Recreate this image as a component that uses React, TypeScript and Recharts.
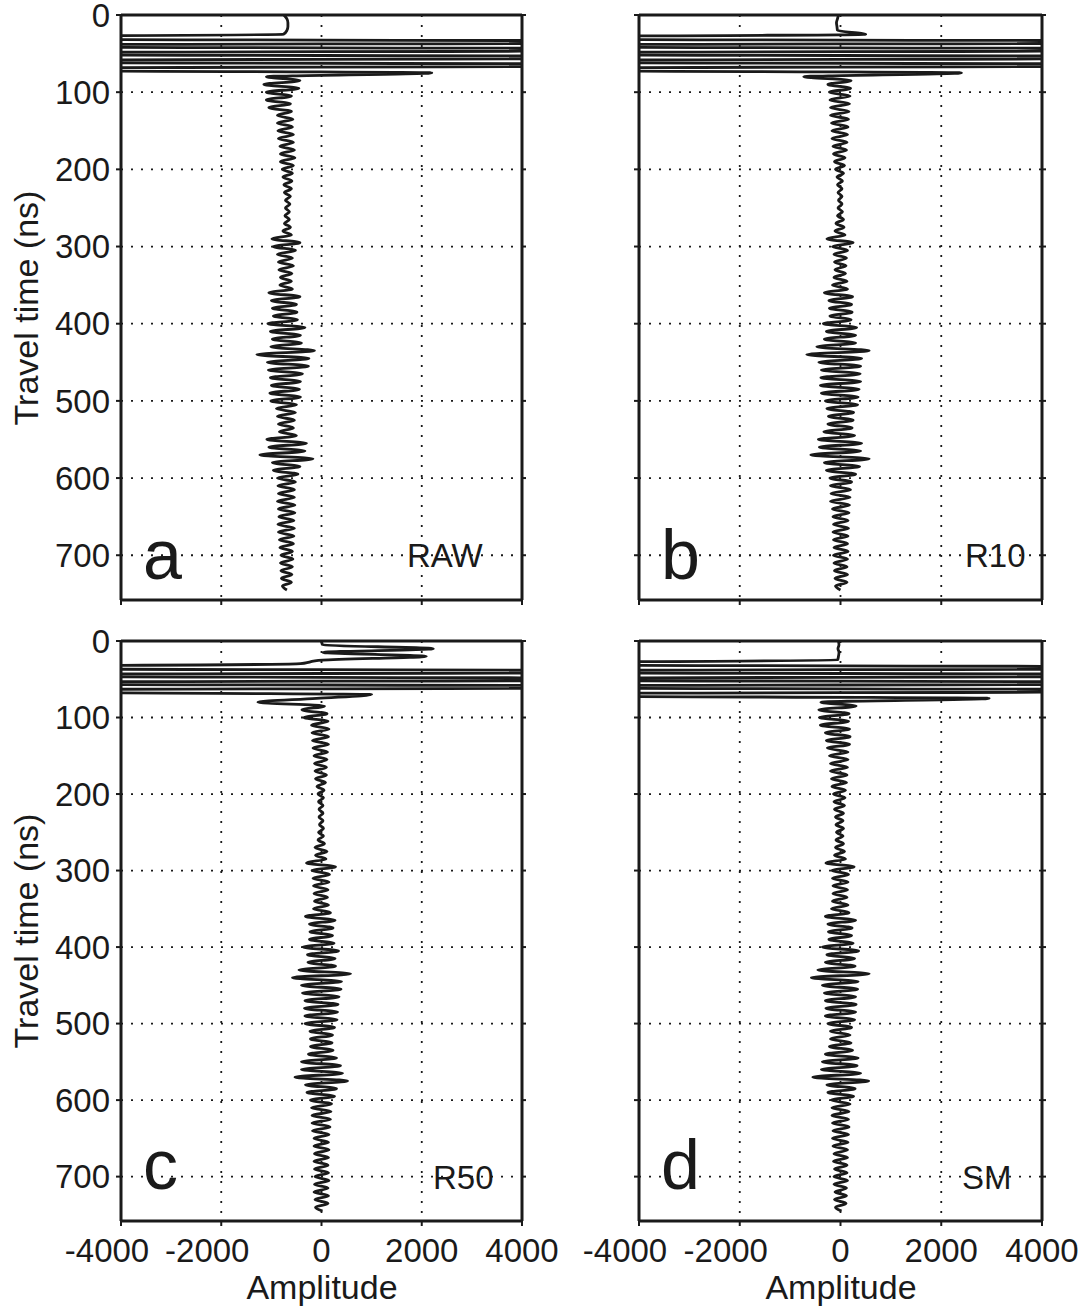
import { CartesianGrid, Line, LineChart, XAxis, YAxis } from "recharts";

// sample interval of the traces (ns); sample i sits at t = i * SAMPLE_NS
const SAMPLE_NS = 5;
const T_MAX = 758;

const timeTicks = [0, 100, 200, 300, 400, 500, 600, 700];
const ampTicks = [-4000, -2000, 0, 2000, 4000];

// amplitude of each trace at every sample (direct wave saturates far past +/-4000)
const rawTrace = [
  -750, -690, -670, -670, -690, -760, -12000, 12000, -12000, 12000,
  -12000, 12000, -12000, 12000, -12000, 2200, -1100, -430, -1150, -450,
  -1100, -600, -1100, -620, -1050, -600, -880, -570, -880, -580,
  -870, -560, -860, -560, -830, -540, -820, -530, -820, -560,
  -780, -580, -770, -590, -750, -600, -740, -620, -720, -630,
  -720, -640, -730, -640, -740, -620, -770, -600, -990, -430,
  -960, -520, -880, -580, -860, -560, -850, -590, -820, -600,
  -830, -580, -1050, -430, -1000, -500, -980, -490, -960, -480,
  -1070, -330, -1020, -420, -980, -400, -1010, -140, -1290, -250,
  -1080, -260, -1060, -380, -1020, -420, -1000, -440, -1030, -420,
  -1010, -500, -900, -520, -880, -540, -860, -560, -840, -500,
  -1090, -300, -1050, -330, -1230, -170, -980, -430, -960, -470,
  -880, -520, -870, -540, -860, -540, -880, -530, -860, -530,
  -850, -550, -870, -540, -860, -550, -840, -560, -830, -580,
  -810, -570, -820, -580, -810, -590, -800, -600, -780, -690,
];

const r10Trace = [
  -40, -60, -80, -70, -60, 500, -12000, 12000, -12000, 12000,
  -12000, 12000, -12000, 12000, -12000, 2400, -730, 210, -250, 200,
  -220, 190, -210, 180, -200, 170, -200, 160, -180, 150,
  -170, 140, -170, 130, -150, 120, -140, 90, -120, 80,
  -100, 60, -70, 40, -60, 30, -50, 30, -40, 30,
  -50, 40, -60, 60, -90, 70, -110, 90, -270, 250,
  -160, 140, -130, 120, -120, 110, -110, 100, -130, 130,
  -160, 140, -320, 240, -230, 220, -220, 230, -210, 210,
  -340, 320, -280, 300, -320, 300, -470, 570, -670, 420,
  -430, 400, -380, 390, -390, 400, -400, 370, -380, 350,
  -300, 340, -270, 260, -240, 250, -250, 230, -330, 280,
  -440, 420, -420, 400, -590, 570, -320, 380, -280, 300,
  -210, 220, -200, 200, -190, 190, -200, 180, -160, 170,
  -150, 150, -140, 160, -150, 150, -140, 140, -130, 150,
  -140, 140, -130, 130, -120, 140, -110, 130, -100, 0,
];

const r50Trace = [
  0, 20, 2230, 30, 2090, 20, -500, -12000, 12000, -12000,
  12000, -12000, 12000, -12000, 1000, -100, -1270, 60, -390, 110,
  -350, 130, -200, 150, -190, 140, -180, 140, -170, 120,
  -150, 110, -140, 100, -130, 100, -120, 80, -90, 50,
  -70, 40, -60, 30, -50, 30, -50, 30, -40, 40,
  -60, 40, -70, 60, -130, 110, -120, 90, -300, 280,
  -190, 160, -170, 150, -160, 130, -150, 120, -140, 140,
  -160, 180, -320, 270, -240, 230, -230, 220, -240, 250,
  -370, 340, -280, 270, -270, 280, -450, 580, -580, 400,
  -400, 390, -380, 350, -330, 330, -340, 320, -330, 310,
  -330, 260, -230, 220, -220, 210, -220, 230, -260, 300,
  -400, 380, -400, 420, -530, 520, -320, 300, -290, 260,
  -220, 200, -200, 190, -190, 180, -190, 170, -180, 150,
  -150, 140, -150, 150, -140, 140, -150, 130, -140, 140,
  -130, 150, -140, 130, -150, 140, -130, 130, -120, 20,
];

const smTrace = [
  -40, -30, -50, -30, -40, -60, -12000, 12000, -12000, 12000,
  -12000, 12000, -12000, 12000, -12000, 2950, -390, 310, -430, 170,
  -420, 160, -400, 180, -300, 190, -280, 180, -260, 150,
  -220, 150, -200, 140, -200, 130, -180, 120, -170, 100,
  -140, 90, -130, 80, -120, 60, -100, 50, -90, 60,
  -80, 50, -90, 60, -100, 80, -120, 100, -290, 270,
  -170, 160, -160, 150, -150, 140, -150, 130, -160, 150,
  -180, 170, -300, 300, -250, 230, -240, 220, -230, 250,
  -360, 360, -270, 280, -300, 290, -450, 570, -580, 350,
  -360, 340, -320, 300, -300, 310, -290, 300, -300, 280,
  -250, 220, -200, 190, -200, 210, -220, 240, -300, 350,
  -360, 330, -380, 400, -550, 560, -270, 290, -250, 260,
  -180, 190, -170, 170, -170, 160, -160, 170, -150, 160,
  -160, 150, -150, 140, -130, 140, -140, 130, -120, 130,
  -130, 140, -130, 120, -110, 120, -120, 110, -100, 20,
];

const panelLetters = ["a", "b", "c", "d"];
const panelTags = ["RAW", "R10", "R50", "SM"];

const FONT = '"Liberation Sans", Arial, Helvetica, sans-serif';
const INK = "#1a1a1a";
const Y_AXIS_W = 100;
const RIGHT_PAD = 44;
const TOP_PAD = 20;

function toRows(values: number[]) {
  return values.map((amp, i) => ({ t: i * SAMPLE_NS, amp }));
}

function AmpTick(props: any) {
  const { x, y, payload } = props;
  const v = payload.value as number;
  return (
    <text
      x={x + (v < 0 ? -14 : 0)}
      y={y}
      dy="0.71em"
      textAnchor="middle"
      fontSize={33}
      fill={INK}
      fontFamily={FONT}
    >
      {v}
    </text>
  );
}

// keeps the tick (and its grid line) but draws no label
function NoLabel() {
  return <g />;
}

type PanelProps = {
  values: number[];
  plotLeft: number;
  plotTop: number;
  plotW: number;
  plotH: number;
  timeLabels: boolean;
  ampLabels: boolean;
};

function TracePanel({ values, plotLeft, plotTop, plotW, plotH, timeLabels, ampLabels }: PanelProps) {
  const bottomH = ampLabels ? 70 : 10;
  const width = Y_AXIS_W + plotW + 6 + RIGHT_PAD;
  const height = TOP_PAD + 6 + plotH + bottomH;
  const axisLine = { stroke: INK, strokeWidth: 3 };
  const tickLine = { stroke: INK, strokeWidth: 2 };
  return (
    <div style={{ position: "absolute", left: plotLeft - Y_AXIS_W, top: plotTop - 6 - TOP_PAD }}>
      <LineChart
        width={width}
        height={height}
        layout="vertical"
        data={toRows(values)}
        margin={{ top: TOP_PAD, right: RIGHT_PAD, bottom: 0, left: 0 }}
      >
        <CartesianGrid stroke={INK} strokeWidth={1.8} strokeDasharray="2 8" />
        <XAxis
          type="number"
          domain={[-4000, 4000]}
          ticks={ampTicks}
          interval={0}
          allowDataOverflow
          height={bottomH}
          axisLine={axisLine}
          tickLine={tickLine}
          tickSize={5}
          tickMargin={13}
          tick={ampLabels ? <AmpTick /> : <NoLabel />}
        />
        <XAxis
          xAxisId="top"
          orientation="top"
          type="number"
          domain={[-4000, 4000]}
          ticks={ampTicks}
          interval={0}
          height={6}
          axisLine={axisLine}
          tickLine={tickLine}
          tickSize={4}
          tick={<NoLabel />}
        />
        <YAxis
          type="number"
          dataKey="t"
          domain={[0, T_MAX]}
          ticks={timeTicks}
          interval={0}
          allowDataOverflow
          width={Y_AXIS_W}
          axisLine={axisLine}
          tickLine={tickLine}
          tickSize={5}
          tickMargin={6}
          tick={timeLabels ? { fontSize: 33, fill: INK, fontFamily: FONT } : <NoLabel />}
        />
        <YAxis
          yAxisId="right"
          orientation="right"
          type="number"
          dataKey="t"
          domain={[0, T_MAX]}
          ticks={timeTicks}
          interval={0}
          width={6}
          axisLine={axisLine}
          tickLine={tickLine}
          tickSize={4}
          tick={<NoLabel />}
        />
        <Line
          dataKey="amp"
          type="monotone"
          stroke={INK}
          strokeWidth={2.8}
          dot={false}
          isAnimationActive={false}
        />
      </LineChart>
    </div>
  );
}

// frame rectangles of the four panels
const frames = [
  { plotLeft: 121, plotTop: 15, plotW: 401, plotH: 585 },
  { plotLeft: 639, plotTop: 15, plotW: 403, plotH: 585 },
  { plotLeft: 121, plotTop: 641, plotW: 401, plotH: 580 },
  { plotLeft: 639, plotTop: 641, plotW: 403, plotH: 580 },
];
const tagX = [407, 965, 433, 962];

export default function App() {
  const traces = [rawTrace, r10Trace, r50Trace, smTrace];
  return (
    <div style={{ position: "absolute", left: 0, top: 0, width: 1087, height: 1310, background: "#fff", overflow: "hidden" }}>
      {traces.map((values, i) => (
        <TracePanel
          key={panelTags[i]}
          values={values}
          {...frames[i]}
          timeLabels={i % 2 === 0}
          ampLabels={i >= 2}
        />
      ))}
      <svg
        width={1087}
        height={1310}
        style={{ position: "absolute", left: 0, top: 0, pointerEvents: "none" }}
        fontFamily={FONT}
        fill={INK}
      >
        {frames.map((f, i) => {
          const y700 = f.plotTop + (700 / T_MAX) * f.plotH;
          return (
            <g key={panelLetters[i]}>
              <text x={f.plotLeft + 22} y={y700 + (i < 2 ? 24 : 12)} fontSize={70}>
                {panelLetters[i]}
              </text>
              <text x={tagX[i]} y={y700 + 12} fontSize={33}>
                {panelTags[i]}
              </text>
            </g>
          );
        })}
        <text x={322} y={1299} fontSize={34} textAnchor="middle">Amplitude</text>
        <text x={841} y={1299} fontSize={34} textAnchor="middle">Amplitude</text>
        <text transform="translate(38,308) rotate(-90)" fontSize={34} textAnchor="middle">Travel time (ns)</text>
        <text transform="translate(38,931) rotate(-90)" fontSize={34} textAnchor="middle">Travel time (ns)</text>
      </svg>
    </div>
  );
}
